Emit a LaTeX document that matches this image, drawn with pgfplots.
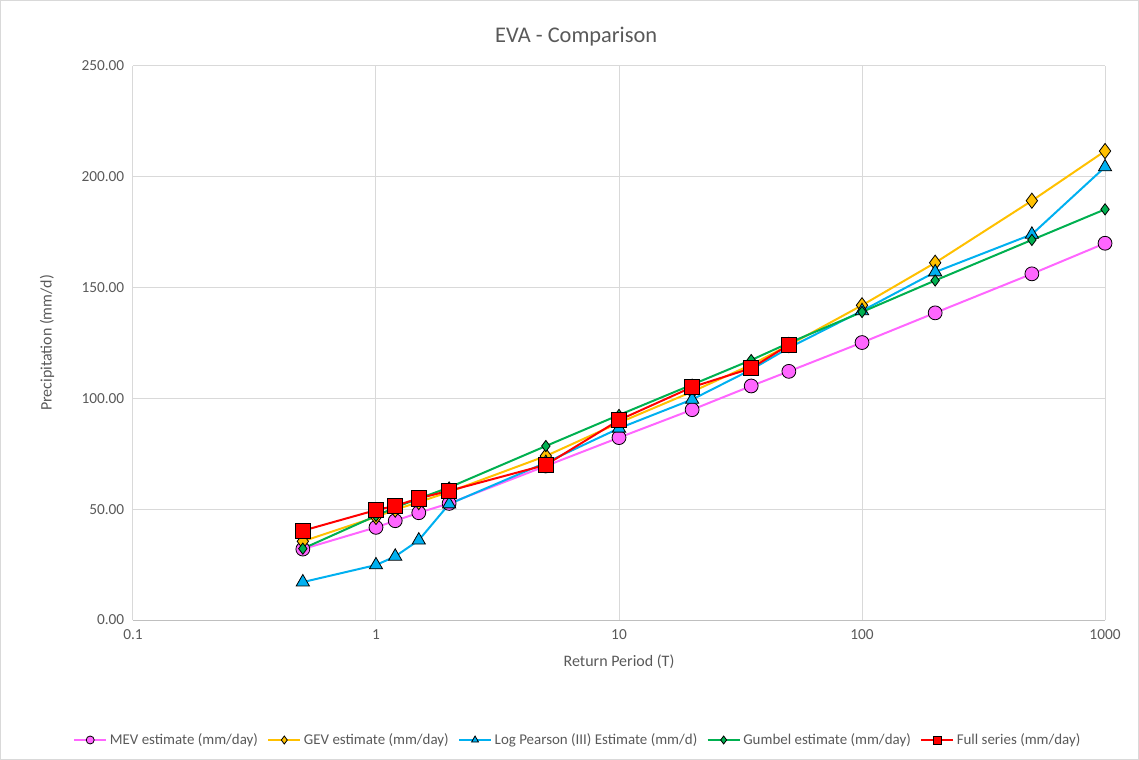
\documentclass[border=0pt]{standalone}
\usepackage{pgfplots}
\pgfplotsset{compat=1.18}
\usepackage{fontspec}
\setmainfont{Carlito}
\definecolor{txt}{HTML}{595959}
\definecolor{gridc}{HTML}{D9D9D9}
\definecolor{axc}{HTML}{BFBFBF}
\definecolor{mevc}{HTML}{FF66FF}
\definecolor{gevc}{HTML}{FFC000}
\definecolor{lpc}{HTML}{00B0F0}
\definecolor{gumc}{HTML}{00B050}
\definecolor{fullc}{HTML}{FF0000}
\begin{document}
\begin{tikzpicture}
\begin{axis}[
  scale only axis,
  width=729pt, height=415.5pt,
  xmode=log,
  xmin=0.1, xmax=1000,
  ymin=0, ymax=250,
  xtick={0.1,1,10,100,1000},
  xticklabels={0.1,1,10,100,1000},
  ytick={0,50,100,150,200,250},
  yticklabels={0.00,50.00,100.00,150.00,200.00,250.00},
  minor xtick={},
  log basis x=10,
  xminorticks=false,
  tick style={draw=none},
  ticklabel style={font=\fontsize{11.5}{13}\selectfont, text=txt},
  xticklabel style={yshift=-4pt},
  yticklabel style={xshift=-3pt},
  axis line style={draw=none},
  grid=major,
  major grid style={draw=gridc, line width=0.75pt},
  clip=false,
  legend columns=5,
  legend style={draw=none, fill=none, at={(0.458,-0.2166)}, anchor=center,
    font=\fontsize{11.2}{13}\selectfont, text=txt,
    /tikz/every even column/.append style={column sep=5pt}},
  legend cell align=left,
  legend image code/.code={%
    \draw[#1, mark repeat=2, mark phase=2, mark size=3pt]
      plot coordinates {(0pt,0pt) (12pt,0pt) (24pt,0pt)};},
  every axis plot/.append style={line width=1.5pt},
]
% bottom axis line
\draw[axc, line width=0.75pt] (rel axis cs:0,0) -- (rel axis cs:1,0);

\addplot[mevc, mark=*, mark size=5.2pt,
  mark options={fill=mevc, draw=black, line width=0.6pt}]
  coordinates {(0.5,32.0) (1,41.8) (1.2,44.8) (1.5,48.4) (2,52.6) (5,69.5)
    (10,82.3) (20,94.9) (35,105.6) (50,112.2) (100,125.2) (200,138.6)
    (500,156.2) (1000,170.0)};
\addlegendentry{MEV estimate (mm/day)}

\addplot[gevc, mark=diamond*, mark size=5.7pt,
  mark options={fill=gevc, draw=black, line width=0.6pt}]
  coordinates {(0.5,35.5) (1,46.5) (1.2,49.8) (1.5,53.2) (2,57.8) (5,74.0)
    (10,89.0) (20,103.0) (35,115.2) (50,124.0) (100,142.0) (200,161.2)
    (500,189.2) (1000,211.6)};
\addlegendentry{GEV estimate (mm/day)}

\addplot[lpc, mark=triangle*, mark size=5.7pt,
  mark options={fill=lpc, draw=black, line width=0.6pt}]
  coordinates {(0.5,17.1) (1,24.8) (1.2,28.7) (1.5,36.0) (2,52.3) (5,71.0)
    (10,86.5) (20,99.5) (35,113.0) (50,122.8) (100,139.5) (200,157.0)
    (500,174.0) (1000,204.4)};
\addlegendentry{Log Pearson (III) Estimate (mm/d)}

\addplot[gumc, mark=diamond*, mark size=4.2pt,
  mark options={fill=gumc, draw=black, line width=0.6pt}]
  coordinates {(0.5,32.2) (1,47.0) (1.2,50.8) (1.5,54.8) (2,59.8) (5,78.5)
    (10,92.5) (20,106.2) (35,117.3) (50,125.0) (100,139.0) (200,153.2)
    (500,171.5) (1000,185.3)};
\addlegendentry{Gumbel estimate (mm/day)}

\addplot[fullc, mark=square*, mark size=5.7pt,
  mark options={fill=fullc, draw=black, line width=0.6pt}]
  coordinates {(0.5,40.3) (1,49.6) (1.2,51.5) (1.5,54.9) (2,58.3) (5,70.0)
    (10,90.2) (20,105.1) (35,113.6) (50,124.2)};
\addlegendentry{Full series (mm/day)}

\node[text=txt, font=\fontsize{16.8}{19}\selectfont] at (rel axis cs:0.456,1.0525) {EVA - Comparison};
\node[text=txt, font=\fontsize{12}{14}\selectfont] at (rel axis cs:0.5,-0.0758) {Return Period (T)};
\node[text=txt, font=\fontsize{12}{14}\selectfont, rotate=90] at (rel axis cs:-0.0885,0.5) {Precipitation (mm/d)};
\end{axis}
\draw[gridc, line width=0.75pt] (-99.75pt+0.4pt,-105pt+0.4pt) rectangle (754.5pt-0.4pt,465pt-0.4pt);
\end{tikzpicture}
\end{document}
